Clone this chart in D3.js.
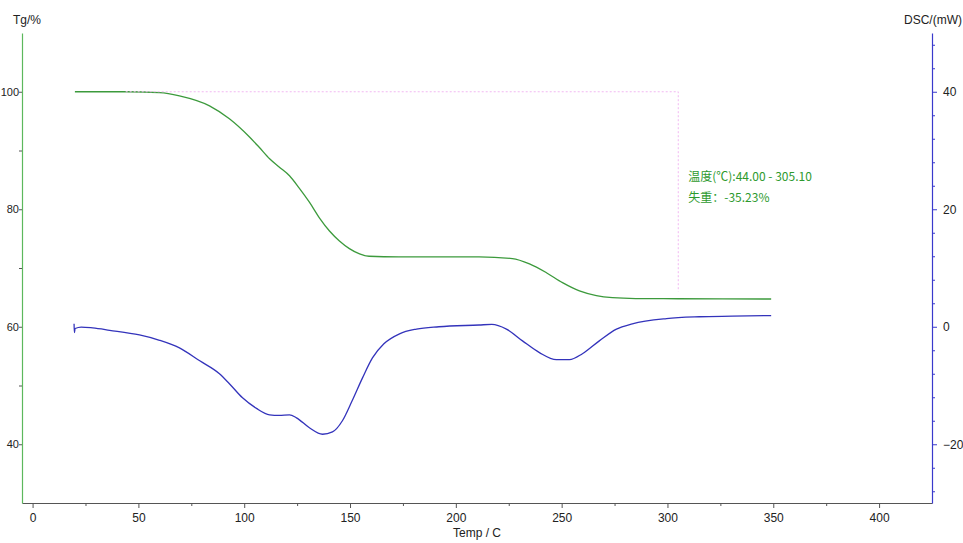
<!DOCTYPE html>
<html>
<head>
<meta charset="utf-8">
<script src="https://cdn.jsdelivr.net/npm/d3@7"></script>
<style>
  html, body { margin: 0; padding: 0; background: #fff; }
  svg { display: block; font-family: "Liberation Sans", Arial, sans-serif; }
</style>
</head>
<body>
<svg id="chart" width="963" height="543"></svg>
<script>
// TG curve (mass %, left axis)
const tgTemp = [20, 44, 60, 69.4, 83.6, 93, 102.5, 107.2, 112, 116.5, 121.4, 126, 130.8, 135.6, 140.3, 145, 149.7, 154.5, 159, 173, 211, 226.7, 234.8, 242.8, 250.4, 258.4, 266.4, 274, 285, 305.1, 349];
const tgValue = [100, 100, 99.85, 99.3, 97.6, 95.4, 92.3, 90.5, 88.6, 87.2, 85.7, 83.6, 81.2, 78.5, 76.3, 74.6, 73.3, 72.4, 72.0, 71.9, 71.9, 71.6, 70.7, 69.2, 67.5, 66.1, 65.3, 64.95, 64.8, 64.77, 64.72];

// DSC curve (mW, right axis)
const dscTemp = [19.6, 19.75, 20.1, 23, 28.4, 36.4, 50.5, 60, 69.4, 79, 88.3, 93, 99.2, 105.8, 112, 116.5, 121.4, 124.7, 130.8, 137, 141.7, 146.4, 151, 155.9, 160.6, 166, 173.4, 181.4, 192, 211, 217, 223.9, 231.5, 239.5, 247.5, 253.7, 259.8, 267.8, 275.9, 283.4, 299.5, 315, 330.6, 349];
const dscValue = [0.5, -1.0, -0.3, -0.05, -0.2, -0.6, -1.4, -2.3, -3.6, -5.8, -8.0, -9.7, -12.1, -13.9, -15.0, -15.1, -15.0, -15.5, -17.2, -18.3, -17.9, -16.0, -12.6, -8.7, -5.3, -2.9, -1.2, -0.4, 0.0, 0.3, 0.4, -0.4, -2.4, -4.4, -5.6, -5.6, -4.6, -2.4, -0.4, 0.5, 1.4, 1.7, 1.8, 1.9];

// Axis ticks
const xMajorTicks = [0, 50, 100, 150, 200, 250, 300, 350, 400];
const xMinorTicks = [25, 75, 125, 175, 225, 275, 325, 375];
const tgMajorTicks = [40, 60, 80, 100];
const tgMinorTicks = [50, 70, 90];
const dscMajorTicks = [-20, 0, 20, 40];
const dscMinorTicks = [-28, -24, -16, -12, -8, -4, 4, 8, 12, 16, 24, 28, 32, 36, 44, 48];

// Mass-loss step annotation
const stepStart = 44.00;
const stepEnd = 305.10;
const stepLoss = -35.23;
const stepTop = 100;
const stepBottom = 66;
const annotationLines = ["温度(℃):" + stepStart.toFixed(2) + " - " + stepEnd.toFixed(2), "失重：" + stepLoss.toFixed(2) + "%"];

const svg = d3.select("#chart");
const plotLeft = 22, plotRight = 932, plotTop = 33, plotBottom = 503;

const x = d3.scaleLinear().domain([-5, 425]).range([plotLeft, plotRight]);
const yTg = d3.scaleLinear().domain([30, 110]).range([plotBottom, plotTop]);
const yDsc = d3.scaleLinear().domain([-30, 50]).range([plotBottom, plotTop]);

const green = "#3c9a3c";
const axisGreen = "#5cb85c";
const blue = "#3333bb";
const axisBlue = "#3a3acc";
const grey = "#555";

function styleAxis(g, color) {
  g.select(".domain").attr("stroke", color).attr("stroke-width", 1.2);
  g.selectAll(".tick line").attr("stroke", color);
  g.selectAll(".tick text").attr("fill", "#222").attr("font-size", 12);
}

// Bottom axis
const gx = svg.append("g").attr("transform", `translate(0,${plotBottom})`)
  .call(d3.axisBottom(x).tickValues(xMajorTicks).tickSize(5).tickSizeOuter(0).tickPadding(5));
styleAxis(gx, grey);
svg.append("g").attr("transform", `translate(0,${plotBottom})`)
  .call(d3.axisBottom(x).tickValues(xMinorTicks).tickSize(3).tickFormat(""))
  .call(g => g.select(".domain").remove())
  .call(g => g.selectAll(".tick line").attr("stroke", grey));

// Left axis (TG)
const gy = svg.append("g").attr("transform", `translate(${plotLeft},0)`)
  .call(d3.axisLeft(yTg).tickValues(tgMajorTicks).tickSize(3).tickSizeOuter(0).tickPadding(0));
styleAxis(gy, axisGreen);
gy.selectAll(".tick line").attr("stroke", grey);
gy.selectAll(".tick text").attr("font-size", 11);
svg.append("g").attr("transform", `translate(${plotLeft},0)`)
  .call(d3.axisLeft(yTg).tickValues(tgMinorTicks).tickSize(3).tickFormat(""))
  .call(g => g.select(".domain").remove())
  .call(g => g.selectAll(".tick line").attr("stroke", grey));

// Right axis (DSC)
const gy2 = svg.append("g").attr("transform", `translate(${plotRight},0)`)
  .call(d3.axisRight(yDsc).tickValues(dscMajorTicks).tickSize(5).tickSizeOuter(0).tickPadding(6));
styleAxis(gy2, axisBlue);
svg.append("g").attr("transform", `translate(${plotRight},0)`)
  .call(d3.axisRight(yDsc).tickValues(dscMinorTicks).tickSize(3).tickFormat(""))
  .call(g => g.select(".domain").remove())
  .call(g => g.selectAll(".tick line").attr("stroke", axisBlue));

// Axis titles
svg.append("text").attr("x", 13).attr("y", 24).attr("font-size", 12).attr("fill", "#222").text("Tg/%");
svg.append("text").attr("x", 962).attr("y", 24).attr("font-size", 12).attr("fill", "#222")
  .attr("text-anchor", "end").text("DSC/(mW)");
svg.append("text").attr("x", (plotLeft + plotRight) / 2).attr("y", 537).attr("font-size", 12).attr("fill", "#222")
  .attr("text-anchor", "middle").text("Temp / C");

// Curves
const tgLine = d3.line().x(d => x(d[0])).y(d => yTg(d[1])).curve(d3.curveMonotoneX);
const dscLine = d3.line().x(d => x(d[0])).y(d => yDsc(d[1])).curve(d3.curveMonotoneX);

svg.append("path").datum(tgTemp.map((t, i) => [t, tgValue[i]]))
  .attr("d", tgLine).attr("fill", "none").attr("stroke", green).attr("stroke-width", 1.3);
svg.append("path").datum(dscTemp.map((t, i) => [t, dscValue[i]]))
  .attr("d", dscLine).attr("fill", "none").attr("stroke", blue).attr("stroke-width", 1.3);

// Step bracket
svg.append("path")
  .attr("d", d3.line()([[x(stepStart), yTg(stepTop)], [x(stepEnd), yTg(stepTop)], [x(stepEnd), yTg(stepBottom)]]))
  .attr("fill", "none").attr("stroke", "#f2b8f2").attr("stroke-width", 1).attr("stroke-dasharray", "2,2");

const ann = svg.append("g").attr("font-family", "'Noto Sans CJK SC', 'Liberation Sans', sans-serif")
  .attr("font-size", 12).attr("fill", "#2e9a2e");
annotationLines.forEach((s, i) => {
  ann.append("text").attr("x", x(stepEnd) + 10).attr("y", 181 + i * 21).text(s);
});
</script>
</body>
</html>
